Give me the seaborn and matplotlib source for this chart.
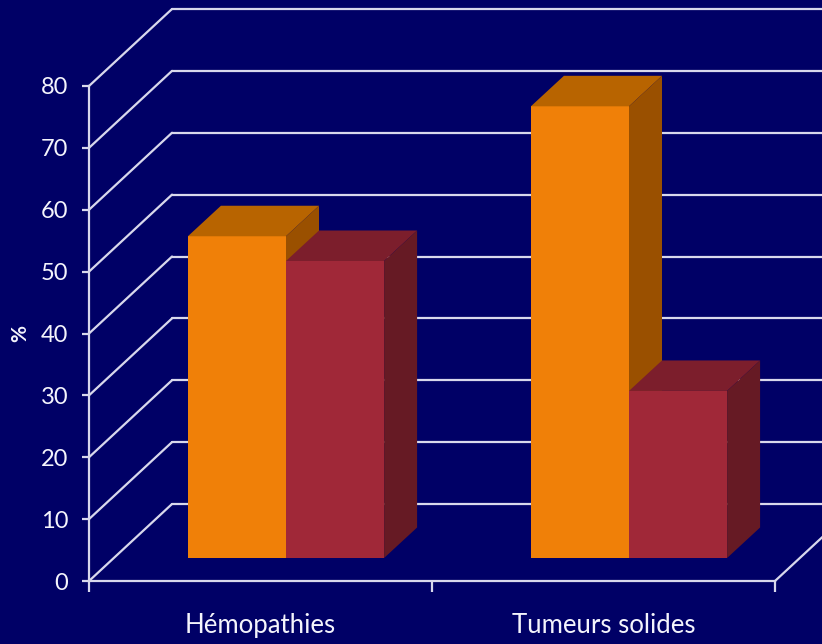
import matplotlib
matplotlib.use("Agg")
import matplotlib.pyplot as plt
import matplotlib.transforms as mtransforms
from matplotlib.patches import Polygon
from matplotlib.lines import Line2D
import pandas as pd
import seaborn as sns

# Data
categories = ["Hémopathies", "Tumeurs solides"]
series = ["Série 1", "Série 2"]
values_s1 = [52, 73]
values_s2 = [48, 27]
y_ticks = [0, 10, 20, 30, 40, 50, 60, 70, 80]

# Styling
BG = "#000066"
LINE = "#D8D8EC"
TEXT = "#F4F4FC"
front_cols = ["#F08008", "#A02838"]
top_cols = ["#B86400", "#7C1E2C"]
side_cols = ["#9A5000", "#661A24"]

df = pd.DataFrame({
    "cat": categories * 2,
    "serie": [series[0]] * 2 + [series[1]] * 2,
    "val": values_s1 + values_s2,
})

sns.set_theme(style="white")
plt.rcParams["font.family"] = ["Lato", "DejaVu Sans"]

DPI = 100
fig = plt.figure(figsize=(8.22, 6.44), dpi=DPI, facecolor=BG)
W, H = 822, 644
x0_px, x1_px = 89, 775
y0_px, y80_px = 581, 86
ax = fig.add_axes([x0_px / W, (H - y0_px) / H,
                   (x1_px - x0_px) / W, (y0_px - y80_px) / H])
ax.set_facecolor("none")

sns.barplot(data=df, x="cat", y="val", hue="serie", order=categories,
            hue_order=series, palette=front_cols, width=0.572,
            saturation=1, legend=False, linewidth=0, ax=ax)

ax.set_xlim(-0.5, 1.5)
ax.set_ylim(0, 80)

# Oblique offsets (pixels): back wall and bar depth position
wall_dx, wall_dy = 83, 77
bar_dx, bar_dy = 25.5, 23
depth_dx, depth_dy = 33, 30.5

ident = mtransforms.IdentityTransform()
wall_shift = mtransforms.ScaledTranslation(wall_dx / DPI, wall_dy / DPI, fig.dpi_scale_trans)
bar_shift = mtransforms.ScaledTranslation(bar_dx / DPI, bar_dy / DPI, fig.dpi_scale_trans)

# Back wall gridlines and left wall diagonals
for v in y_ticks:
    ax.plot([-0.5, 1.5], [v, v], color=LINE, lw=1.6,
            transform=ax.transData + wall_shift, clip_on=False, zorder=1)
    px, py = ax.transData.transform((-0.5, v))
    ax.add_artist(Line2D([px, px + wall_dx], [py, py + wall_dy], color=LINE,
                         lw=1.6, transform=ident, clip_on=False, zorder=1))
# right edge of the floor
px, py = ax.transData.transform((1.5, 0))
ax.add_artist(Line2D([px, px + wall_dx], [py, py + wall_dy], color=LINE,
                     lw=1.6, transform=ident, clip_on=False, zorder=1))

# Bars with top and side faces
bars = list(ax.patches)
n = len(categories)
for i, bar in enumerate(bars):
    k = i // n  # series index
    tr = ax.transData + bar_shift
    bar.set_transform(tr)
    bar.set_clip_on(False)
    bar.set_zorder(3 + 2 * k)
    bb = bar.get_bbox()
    (bx0, by0), (bx1, by1) = tr.transform([(bb.x0, bb.y0), (bb.x1, bb.y1)])
    top = Polygon([(bx0, by1), (bx1, by1), (bx1 + depth_dx, by1 + depth_dy),
                   (bx0 + depth_dx, by1 + depth_dy)], closed=True,
                  facecolor=top_cols[k], edgecolor="none",
                  transform=ident, clip_on=False, zorder=3.5 + 2 * k)
    side = Polygon([(bx1, by0), (bx1, by1), (bx1 + depth_dx, by1 + depth_dy),
                    (bx1 + depth_dx, by0 + depth_dy)], closed=True,
                   facecolor=side_cols[k], edgecolor="none",
                   transform=ident, clip_on=False, zorder=3.5 + 2 * k)
    ax.add_artist(top)
    ax.add_artist(side)

# Axes: front left axis and floor front edge
for s in ["top", "right"]:
    ax.spines[s].set_visible(False)
for s in ["left", "bottom"]:
    ax.spines[s].set_color(LINE)
    ax.spines[s].set_linewidth(1.6)
    ax.spines[s].set_zorder(2)

ax.set_yticks(y_ticks)
ax.set_yticklabels([str(v) for v in y_ticks])
ax.tick_params(axis="y", color=LINE, length=5, width=1.6, pad=10,
               labelcolor=TEXT, labelsize=17, left=True)

ax.set_xticks([0, 1])
ax.set_xticklabels(categories)
ax.tick_params(axis="x", length=0, pad=23, labelcolor=TEXT, labelsize=18.5)
ax.set_xticks([-0.5, 0.5, 1.5], minor=True)
ax.tick_params(axis="x", which="minor", bottom=True, length=8, width=1.6,
               color=LINE, direction="out")

ax.set_xlabel("")
ax.set_ylabel("%", color=TEXT, fontsize=15, fontweight="bold", rotation=90)
ax.yaxis.set_label_coords(-0.10, 0.5)
ax.yaxis.label.set_va("center")

fig.savefig("out.png", dpi=DPI, facecolor=BG)
